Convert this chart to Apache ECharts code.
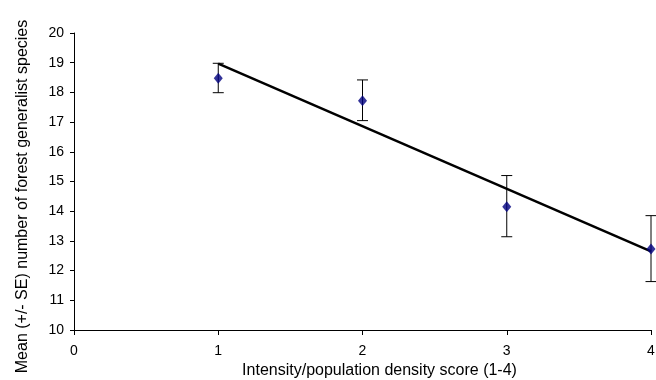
<!DOCTYPE html>
<html>
<head>
<meta charset="utf-8">
<script src="https://cdn.jsdelivr.net/npm/echarts@6/dist/echarts.min.js"></script>
<style>
  html, body { margin: 0; padding: 0; background: #fff; }
  #chart { width: 656px; height: 380px; }
</style>
</head>
<body>
<div id="chart"></div>
<script>
  // scores and means
  const scores = [1, 2, 3, 4];
  const means = [18.48, 17.72, 14.15, 12.73];
  const seUpper = [18.98, 18.42, 15.2, 13.85];
  const seLower = [17.99, 17.05, 13.14, 11.63];
  // fitted trend line end points
  const trendX = [1, 4];
  const trendY = [18.97, 12.65];

  const chart = echarts.init(document.getElementById('chart'));

  const font = 'Liberation Sans, Arial';
  const axisText = { color: '#000', fontFamily: font, fontSize: 14 };
  const titleText = { color: '#000', fontFamily: font, fontSize: 16 };

  const option = {
    animation: false,
    grid: { left: 74, right: 5, top: 33, bottom: 50, outerBoundsMode: 'none' },
    xAxis: {
      type: 'value',
      min: 0,
      max: 4,
      interval: 1,
      name: 'Intensity/population density score (1-4)',
      nameLocation: 'middle',
      nameGap: 31,
      nameTextStyle: Object.assign({ padding: [0, 0, 0, 34] }, titleText),
      axisLine: { lineStyle: { color: '#000', width: 1 } },
      axisTick: { show: true, length: 5, lineStyle: { color: '#000' } },
      axisLabel: Object.assign({ margin: 14 }, axisText),
      splitLine: { show: false }
    },
    yAxis: {
      type: 'value',
      min: 10,
      max: 20,
      interval: 1,
      name: 'Mean (+/- SE) number of forest generalist species',
      nameLocation: 'middle',
      nameGap: 43,
      nameTextStyle: Object.assign({ padding: [0, 30, 0, 0] }, titleText),
      axisLine: { show: true, lineStyle: { color: '#000', width: 1 } },
      axisTick: { show: true, length: 4, lineStyle: { color: '#000' } },
      axisLabel: Object.assign({ margin: 10 }, axisText),
      splitLine: { show: false }
    },
    series: [
      {
        type: 'line',
        data: trendX.map((x, i) => [x, trendY[i]]),
        symbol: 'none',
        lineStyle: { color: '#000', width: 2.5 },
        z: 3
      },
      {
        type: 'custom',
        data: scores.map((x, i) => [x, seLower[i], seUpper[i]]),
        renderItem: (params, api) => {
          const x = api.value(0);
          const lo = api.coord([x, api.value(1)]);
          const hi = api.coord([x, api.value(2)]);
          const half = 5.5;
          const style = { stroke: '#000', lineWidth: 1 };
          return {
            type: 'group',
            children: [
              { type: 'line', shape: { x1: lo[0], y1: lo[1], x2: hi[0], y2: hi[1] }, style },
              { type: 'line', shape: { x1: hi[0] - half, y1: hi[1], x2: hi[0] + half, y2: hi[1] }, style },
              { type: 'line', shape: { x1: lo[0] - half, y1: lo[1], x2: lo[0] + half, y2: lo[1] }, style }
            ]
          };
        },
        z: 2
      },
      {
        type: 'scatter',
        data: scores.map((x, i) => [x, means[i]]),
        symbol: 'diamond',
        symbolSize: [9, 11],
        itemStyle: { color: '#000080' },
        z: 4
      }
    ]
  };

  chart.setOption(option);
</script>
</body>
</html>
